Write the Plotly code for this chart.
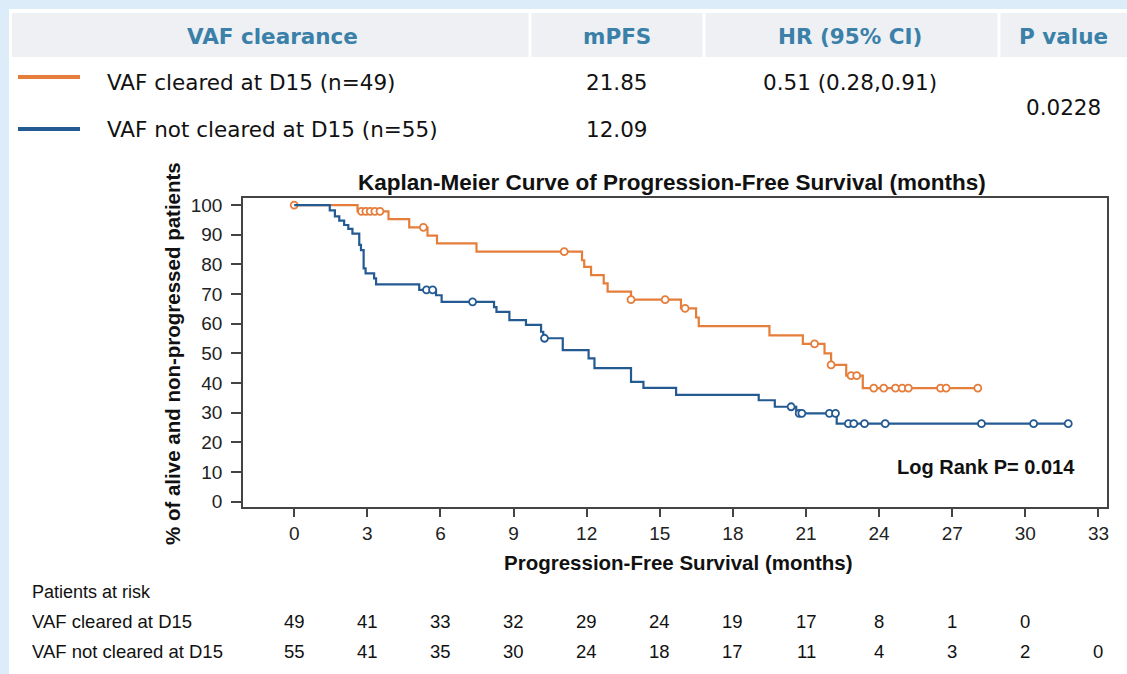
import numpy as np
import plotly.graph_objects as go

# ---------------- data ----------------
orange_times = [0, 2.6, 3.87, 4.72, 5.47, 5.86, 7.48, 11.81, 11.9, 12.18, 12.7, 12.86,
                13.82, 15.87, 16.49, 16.6, 19.5, 20.87, 21.76, 22.03, 22.65, 23.33]
orange_surv = [100, 97.9, 95.3, 92.5, 89.7, 87.1, 84.3, 81.4, 79.2, 76.4, 73.6, 70.8,
               68.1, 65.2, 62.1, 59.2, 56.1, 53.2, 50.0, 46.1, 42.5, 38.3]
orange_censor = [0, 2.76, 2.94, 3.12, 3.31, 3.52, 5.3, 11.08, 13.82, 15.22, 16.04, 21.35,
                 22.03, 22.85, 23.08, 23.78, 24.19, 24.67, 24.95, 25.2, 26.52, 26.75, 28.05]

blue_times = [0, 1.46, 1.67, 1.85, 2.05, 2.22, 2.39, 2.67, 2.74, 2.85, 2.93, 3.28, 3.36,
              5.13, 5.82, 6.05, 8.2, 8.3, 8.83, 9.51, 10.13, 10.22, 11.02, 12.08, 12.32,
              13.82, 14.33, 15.67, 19.06, 19.72, 20.6, 22.26]
blue_surv = [100, 98.2, 96.2, 94.8, 93.3, 92.0, 90.4, 86.6, 84.8, 78.7, 77.0, 75.3, 73.3,
             71.4, 69.6, 67.4, 65.6, 64.0, 61.2, 59.6, 57.3, 55.1, 51.1, 48.3, 45.0,
             40.4, 38.4, 36.0, 34.2, 32.0, 29.8, 26.3]
blue_censor = [5.43, 5.68, 7.32, 10.27, 20.39, 20.72, 20.83, 21.96, 22.21, 22.74, 22.96,
               23.4, 24.25, 28.2, 30.34, 31.76]

risk_times = [0, 3, 6, 9, 12, 15, 18, 21, 24, 27, 30, 33]
risk_orange = [49, 41, 33, 32, 29, 24, 19, 17, 8, 1, 0]
risk_blue = [55, 41, 35, 30, 24, 18, 17, 11, 4, 3, 2, 0]

group_labels = ["VAF cleared at D15 (n=49)", "VAF not cleared at D15 (n=55)"]
risk_labels = ["VAF cleared at D15", "VAF not cleared at D15"]
mpfs = ["21.85", "12.09"]
hr_text = "0.51 (0.28,0.91)"
p_value = "0.0228"
header = ["VAF clearance", "mPFS", "HR (95% CI)", "P value"]

# ---------------- style ----------------
ORANGE = "#e57d3b"
BLUE = "#245a92"
W_FIG, H_FIG = 1127, 674
L, R, T, B = 243, 1107, 198, 507
PW, PH = R - L, B - T


def px(x):
    return (x - L) / PW


def py(y):
    return 1 - (y - T) / PH


def step_value(times, surv, t):
    idx = np.searchsorted(np.array(times), t, side="right") - 1
    return surv[idx]


fig = go.Figure()

for times, surv, cens, color, end in [
    (orange_times, orange_surv, orange_censor, ORANGE, orange_censor[-1]),
    (blue_times, blue_surv, blue_censor, BLUE, blue_censor[-1]),
]:
    fig.add_trace(go.Scatter(x=list(times) + [end], y=list(surv) + [surv[-1]],
                             mode="lines", line=dict(color=color, width=2.2, shape="hv"),
                             showlegend=False, hoverinfo="skip"))
    cy = [step_value(times, surv, t) for t in cens]
    fig.add_trace(go.Scatter(x=cens, y=cy, mode="markers",
                             marker=dict(symbol="circle", size=7, color="white",
                                         line=dict(color=color, width=1.8)),
                             showlegend=False, hoverinfo="skip"))

axis_common = dict(showline=True, mirror=True, linecolor="#444", linewidth=1.5,
                   ticks="outside", tickcolor="#444", showgrid=False, zeroline=False,
                   tickfont=dict(family="Liberation Sans, Arial", size=19, color="#222"))
fig.update_xaxes(range=[-2.1, 33.35], tickmode="array", tickvals=risk_times,
                 ticklen=8, tickwidth=1.5, ticklabelstandoff=0, **axis_common)
fig.update_yaxes(range=[-1.8, 102.4], tickmode="array", tickvals=list(range(0, 101, 10)),
                 ticklen=10, tickwidth=1.5, ticklabelstandoff=5, **axis_common)

shapes = []
ann = []
# page frame strips
shapes.append(dict(type="rect", xref="paper", yref="paper", x0=px(0), x1=px(W_FIG),
                   y0=py(0), y1=py(9), fillcolor="#dcedf9", line=dict(width=0), layer="below"))
shapes.append(dict(type="rect", xref="paper", yref="paper", x0=px(0), x1=px(9),
                   y0=py(0), y1=py(H_FIG), fillcolor="#dcedf9", line=dict(width=0), layer="below"))
# header band
shapes.append(dict(type="rect", xref="paper", yref="paper", x0=px(12), x1=px(W_FIG),
                   y0=py(13), y1=py(57), fillcolor="#eef0f4", line=dict(width=0), layer="below"))
for sx in [530, 704, 999]:
    shapes.append(dict(type="line", xref="paper", yref="paper", x0=px(sx), x1=px(sx),
                       y0=py(13), y1=py(57), line=dict(color="white", width=3)))
# legend lines
for ly, col in [(77, ORANGE), (129, BLUE)]:
    shapes.append(dict(type="line", xref="paper", yref="paper", x0=px(18), x1=px(80),
                       y0=py(ly), y1=py(ly), line=dict(color=col, width=4)))

HFONT = "DejaVu Sans, Verdana"
for text, cx in zip(header, [272, 617, 850, 1063]):
    ann.append(dict(text=f"<b>{text}</b>", x=px(cx), y=py(36), xref="paper", yref="paper",
                    showarrow=False, xanchor="center", yanchor="middle",
                    font=dict(family=HFONT, size=21.5, color="#3a80a8")))
for text, ry in zip(group_labels, [83, 129]):
    ann.append(dict(text=text, x=px(105), y=py(ry), xref="paper", yref="paper",
                    showarrow=False, xanchor="left", yanchor="middle",
                    font=dict(family=HFONT, size=21.5, color="#111")))
for text, ry in zip(mpfs, [83, 129]):
    ann.append(dict(text=text, x=px(617), y=py(ry), xref="paper", yref="paper",
                    showarrow=False, xanchor="center", yanchor="middle",
                    font=dict(family=HFONT, size=21.5, color="#111")))
ann.append(dict(text=hr_text, x=px(850), y=py(83), xref="paper", yref="paper",
                showarrow=False, xanchor="center", yanchor="middle",
                font=dict(family=HFONT, size=21.5, color="#111")))
ann.append(dict(text=p_value, x=px(1063), y=py(107), xref="paper", yref="paper",
                showarrow=False, xanchor="center", yanchor="middle",
                font=dict(family=HFONT, size=21.5, color="#111")))

CFONT = "Liberation Sans, Arial"
ann.append(dict(text="<b>Kaplan-Meier Curve of Progression-Free Survival (months)</b>",
                x=px(672), y=py(182), xref="paper", yref="paper", showarrow=False,
                xanchor="center", yanchor="middle", font=dict(family=CFONT, size=22.5, color="#111")))
ann.append(dict(text="<b>% of alive and non-progressed patients</b>", textangle=-90,
                x=px(172), y=py(354), xref="paper", yref="paper", showarrow=False,
                xanchor="center", yanchor="middle", font=dict(family=CFONT, size=20.5, color="#111")))
ann.append(dict(text="<b>Progression-Free Survival (months)</b>",
                x=px(678), y=py(562), xref="paper", yref="paper", showarrow=False,
                xanchor="center", yanchor="middle", font=dict(family=CFONT, size=20.5, color="#111")))
ann.append(dict(text="<b>Log Rank P= 0.014</b>", x=px(986), y=py(467), xref="paper", yref="paper",
                showarrow=False, xanchor="center", yanchor="middle",
                font=dict(family=CFONT, size=20, color="#111")))

# at-risk table
ann.append(dict(text="Patients at risk", x=px(30), y=py(592), xref="paper", yref="paper",
                showarrow=False, xanchor="left", yanchor="middle",
                font=dict(family=CFONT, size=18, color="#111")))
for label, ry, vals in zip(risk_labels, [621, 651], [risk_orange, risk_blue]):
    ann.append(dict(text=label, x=px(30), y=py(ry), xref="paper", yref="paper",
                    showarrow=False, xanchor="left", yanchor="middle",
                    font=dict(family=CFONT, size=18.5, color="#111")))
    for t, v in zip(risk_times, vals):
        ann.append(dict(text=str(v), x=t, y=py(ry), xref="x", yref="paper",
                        showarrow=False, xanchor="center", yanchor="middle",
                        font=dict(family=CFONT, size=18.5, color="#111")))

fig.update_layout(width=W_FIG, height=H_FIG, margin=dict(l=L, r=W_FIG - R, t=T, b=H_FIG - B),
                  paper_bgcolor="white", plot_bgcolor="white", shapes=shapes, annotations=ann,
                  showlegend=False)
fig.write_html("out.html")
